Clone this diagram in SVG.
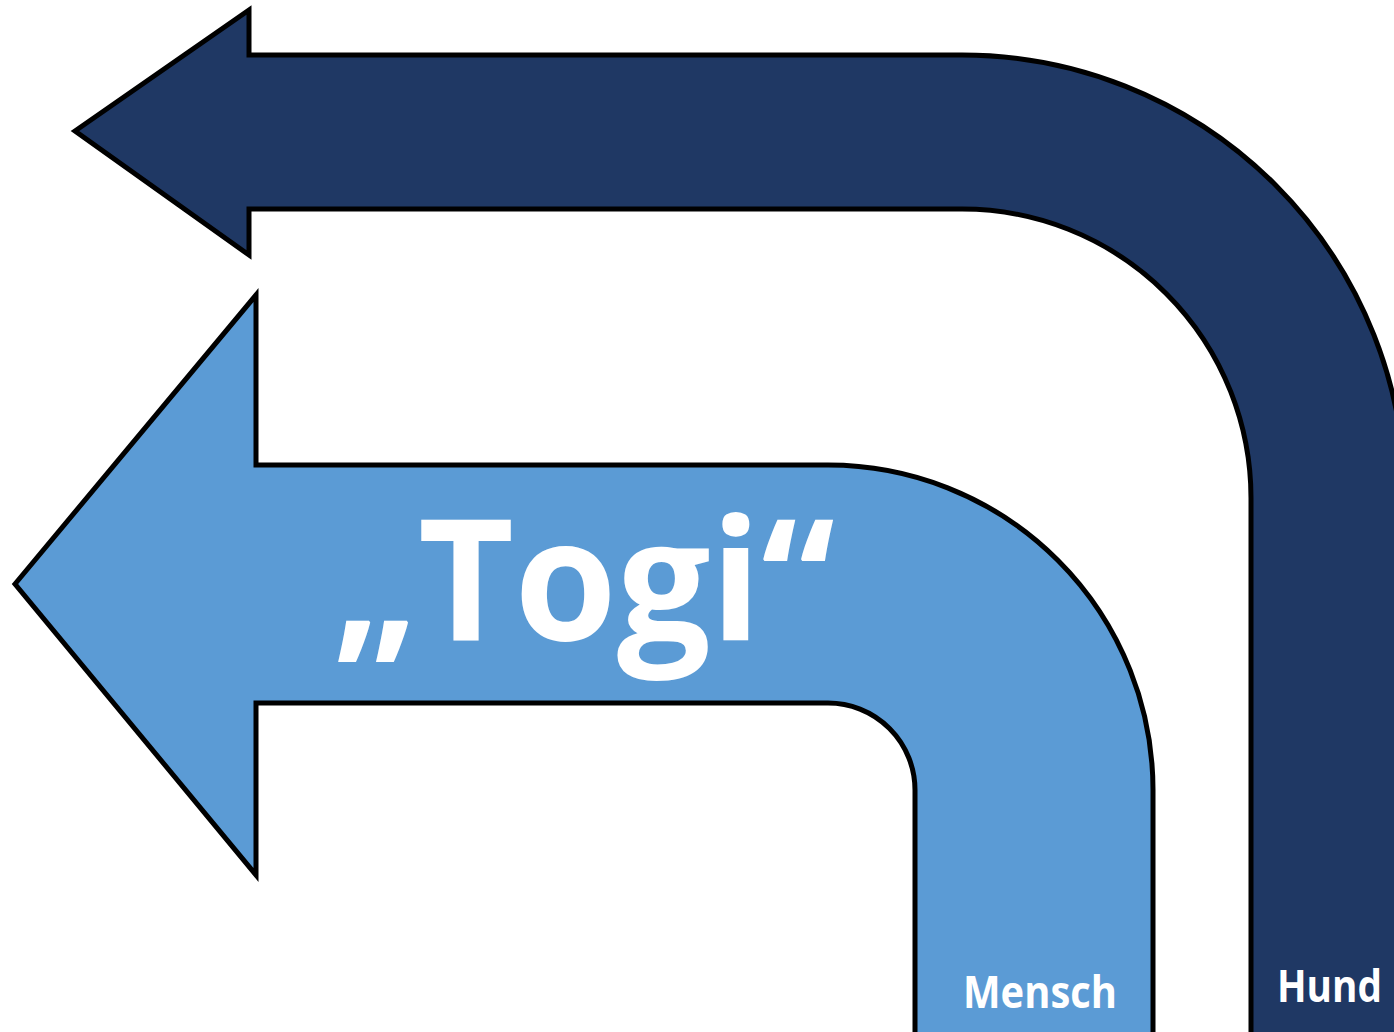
<svg xmlns="http://www.w3.org/2000/svg" width="1394" height="1032" viewBox="0 0 1394 1032">
<style>
.arrow{stroke:#000;stroke-width:5;stroke-linejoin:miter}
.lbl{font-family:"Open Sans","Liberation Sans",sans-serif;font-weight:bold;fill:#fff}
</style>
<rect width="1394" height="1032" fill="#fff"/>
<g id="hund">
<path class="arrow" fill="#1F3864" d="M75,131 L249,10 L249,55 L962,55 A443,443 0 0 1 1405,498 L1405,1045 L1251,1045 L1251,498 A289,289 0 0 0 962,209 L249,209 L249,255 Z"/>
<text class="lbl" x="1277" y="1002" font-size="44" textLength="105" lengthAdjust="spacingAndGlyphs">Hund</text>
</g>
<g id="mensch">
<path class="arrow" fill="#5B9BD5" d="M15,584 L256,295 L256,465 L828,465 A325,325 0 0 1 1153,790 L1153,1045 L915,1045 L915,790 A87,87 0 0 0 828,703 L256,703 L256,875 Z"/>
<text class="lbl" x="963" y="1008" font-size="45" textLength="154" lengthAdjust="spacingAndGlyphs">Mensch</text>
<text class="lbl" x="333" y="640" font-size="168" textLength="502" lengthAdjust="spacingAndGlyphs">„Togi“</text>
</g>
<g id="connectors"></g>
</svg>
